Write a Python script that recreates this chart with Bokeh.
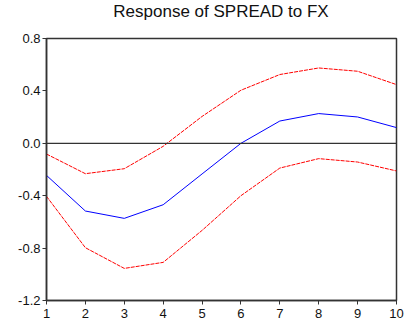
from bokeh.plotting import figure
from bokeh.models import FixedTicker, PrintfTickFormatter, Range1d, Span, Div
from bokeh.layouts import column
from bokeh.embed import file_html
from bokeh.resources import INLINE

periods = [1, 2, 3, 4, 5, 6, 7, 8, 9, 10]
response = [-0.245, -0.517, -0.573, -0.469, -0.234, 0.0, 0.17, 0.227, 0.201, 0.12]
upper = [-0.082, -0.232, -0.194, -0.023, 0.205, 0.405, 0.525, 0.575, 0.55, 0.448]
lower = [-0.405, -0.797, -0.955, -0.909, -0.665, -0.40, -0.189, -0.117, -0.143, -0.211]
y_ticks = [-1.2, -0.8, -0.4, 0.0, 0.4, 0.8]
x_ticks = [1, 2, 3, 4, 5, 6, 7, 8, 9, 10]
title_text = "Response of SPREAD to FX"

title = Div(text=title_text, width=350, height=24, margin=(0, 9, 0, 46),
            styles={"text-align": "center", "font-family": "Liberation Sans",
                    "font-size": "17px", "line-height": "24px", "color": "#111111",
                    "width": "350px"})

p = figure(width=405, height=307, output_backend="svg", toolbar_location=None,
           x_range=Range1d(1, 10), y_range=Range1d(-1.2, 0.8),
           min_border_left=46, min_border_right=9, min_border_bottom=31, min_border_top=14,
           margin=0)

p.grid.visible = False
p.outline_line_color = "#333333"
p.outline_line_width = 1.5
p.background_fill_color = "white"
p.border_fill_color = "white"

for ax in (p.xaxis[0], p.yaxis[0]):
    ax.axis_line_color = "#333333"
    ax.axis_line_width = 1.5
    ax.major_tick_line_color = "#333333"
    ax.minor_tick_line_color = None
    ax.major_tick_in = 0
    ax.major_tick_out = 4
    ax.major_label_text_font = "Liberation Sans"
    ax.major_label_text_font_size = "13px"
    ax.major_label_text_color = "#111111"
    ax.major_label_standoff = 2

p.xaxis[0].major_label_standoff = 4

p.xaxis.ticker = FixedTicker(ticks=x_ticks)
p.yaxis.ticker = FixedTicker(ticks=y_ticks)
p.yaxis.formatter = PrintfTickFormatter(format="%.1f")

p.add_layout(Span(location=0, dimension="width", line_color="#333333", line_width=1.2))

p.line(periods, upper, line_color="#ff0000", line_width=1, line_dash="4 1")
p.line(periods, lower, line_color="#ff0000", line_width=1, line_dash="4 1")
p.line(periods, response, line_color="#0000ff", line_width=1)

layout = column(title, p, spacing=0, margin=0)
open("out.html", "w").write(file_html(layout, INLINE))
